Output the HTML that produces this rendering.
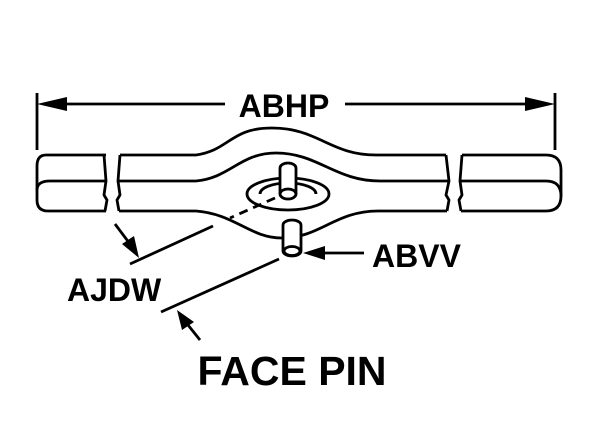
<!DOCTYPE html>
<html><head><style>body{margin:0;background:#fff}svg{display:block}text{font-family:"Liberation Sans",Arial,sans-serif;font-weight:bold;fill:#000}</style></head><body>
<svg width="600" height="440" viewBox="0 0 600 440" xmlns="http://www.w3.org/2000/svg">
<g fill="none" stroke="#000" stroke-width="2.8" stroke-linejoin="round">
<line x1="37" y1="93" x2="37" y2="150"/><line x1="555" y1="93" x2="555" y2="150"/>
<line x1="45" y1="104" x2="225" y2="104"/><line x1="345" y1="104" x2="548" y2="104"/>
<path d="M106,155 L46,155 Q37,155 37,166 L37,200 Q37,211 48,211 L106,211"/>
<path d="M37,190 Q37,181 50,181 L106,181"/>
<path d="M104,155 L106,181 L104,195 L107,200 L105,211"/>
<path d="M120,155 L118,181 L120,195 L117,200 L119,211"/>
<path d="M446,155 L449,181 L446,195 L449,200 L447,211"/>
<path d="M120,155 L196,155 C230,150 230,128 272,128 C318,128 330,155 376,155 L446,155"/>
<path d="M118,181 L196,181 C230,178 240,153 276,153 C318,153 335,181 380,181 L449,181"/>
<path d="M119,211 L196,211 C235,214 250,238 282,238 C320,238 335,211 378,211 L447,211"/>
<path d="M462,155 L546,155 Q561,155 561,170 L561,196 Q561,211 546,211 L461,211"/>
<path d="M561,196 Q561,181 546,181 L460,181"/>
<path d="M462,155 L460,181 L462,195 L459,200 L461,211"/>
<ellipse cx="288" cy="194" rx="41" ry="16" fill="#fff"/>
<path d="M260,194 A28,11 0 0 1 316,194"/>
<path d="M280,194 L280,168 A8,5 0 0 1 296,168 L296,194" fill="#fff"/>
<ellipse cx="288" cy="194" rx="8" ry="5" fill="#fff"/>
<path d="M283,251 L283,225 A9,5 0 0 1 301,225 L301,251 A9,5 0 0 1 283,251Z" fill="#fff"/>
<ellipse cx="292" cy="251" rx="8" ry="4.5"/>
<path d="M275,198 L230,218" stroke-dasharray="9,6"/>
<line x1="213" y1="226" x2="130" y2="264"/>
<line x1="279" y1="259" x2="161" y2="312"/>
<line x1="115" y1="224" x2="130" y2="244"/>
<line x1="200" y1="340" x2="188" y2="325"/>
<line x1="364" y1="253" x2="318" y2="253"/>
</g>
<g fill="#000">
<polygon points="37,104 67,97 67,111"/>
<polygon points="555,104 525,97 525,111"/>
<polygon points="139,258 122,244 134,236"/>
<polygon points="177,310 194,322 182,330"/>
<polygon points="303,253 325,246 325,260"/>
</g>
<text x="284" y="117" font-size="32" text-anchor="middle">ABHP</text>
<text x="372" y="267" font-size="32">ABVV</text>
<text x="67" y="301" font-size="32">AJDW</text>
<text x="292" y="385" font-size="41" text-anchor="middle">FACE PIN</text>
</svg>
</body></html>
